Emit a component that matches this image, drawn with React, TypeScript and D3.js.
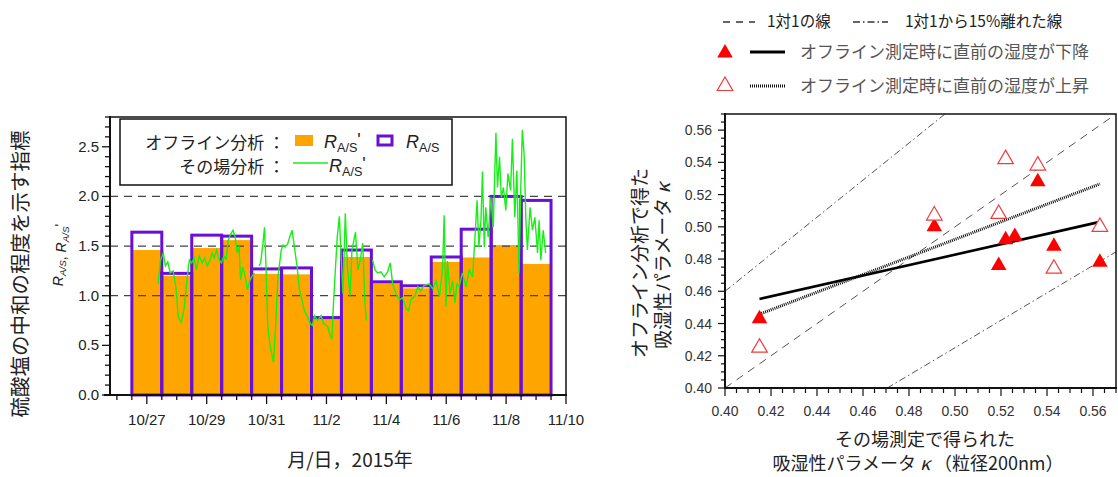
import React from "react";
import * as d3 from "d3";

// ---- left chart data (days counted from Oct 1; 32 = Nov 1) ----
const barDays = [27, 28, 29, 30, 31, 32, 33, 34, 35, 36, 37, 38, 39, 40];
const offlineRprime = [1.46, 1.2, 1.48, 1.56, 1.22, 1.215, 0.77, 1.39, 1.125, 1.075, 1.34, 1.385, 1.51, 1.32];
const offlineR = [1.64, 1.225, 1.61, 1.6, 1.27, 1.28, 0.78, 1.46, 1.14, 1.1, 1.39, 1.67, 2.0, 1.96];

const xTickDays = [27, 29, 31, 33, 35, 37, 39, 41];
const xTickLabels = ["10/27", "10/29", "10/31", "11/2", "11/4", "11/6", "11/8", "11/10"];
const yTicksLeft = [0, 0.5, 1.0, 1.5, 2.0, 2.5];
const refLevels = [1.0, 1.5, 2.0];

// in-situ R_A/S' (null = gap)
const greenDays = [
  27.38, 27.45, 27.55, 27.62, 27.7, 27.78, 27.88, 27.97, 28.05, 28.15, 28.2, 28.25, 28.35, 28.42, 28.5,
  28.58, 28.65, 28.75, 28.85, 28.93, 29.02, 29.1, 29.18, 29.25, 29.33, 29.42, 29.49, 29.57, 29.65, 29.72,
  29.8, 29.88, 29.95, 30.02, 30.08, 30.13, 30.2, 30.28, 30.36, 30.45, 30.52, 30.6, 30.68, 30.75, 30.8,
  30.88, 30.93, 30.98, 31.04, 31.12, 31.23, 31.3, 31.38, 31.49, 31.55, 31.62, 31.7, 31.78, 31.85, 31.92,
  32.02, 32.1, 32.18, 32.27, 32.35, 32.46, 32.53, 32.6, 32.7, 32.82, 32.9, 33.04, 33.12, 33.18, 33.24,
  33.36, 33.43, 33.48, 33.55, 33.63, 33.7, 33.79, 33.85, 33.97, 34.05, 34.13, 34.21, 34.28, 34.33, 34.45,
  34.54, 34.62, 34.71, 34.82, 34.93, 35.04, 35.13, 35.21, 35.32, 35.43, 35.54, 35.66, 35.74, 35.82, 35.96,
  36.05, 36.15, 36.25, 36.43, 36.55, 36.66, 36.77, 36.88, 36.93, 36.99, 37.04, 37.13, 37.21, 37.29, 37.36,
  37.43, 37.54, 37.66, 37.77, 37.88, 37.96, 38.03, 38.09, 38.16, 38.21, 38.27, 38.32, 38.4, 38.49, 38.57,
  38.66, 38.71, 38.78, 38.84, 38.91, 38.99, 39.06, 39.15, 39.21, 39.29, 39.36, 39.43, 39.49, 39.54, 39.6,
  39.66, 39.71, 39.8, 39.88, 39.96, 40.05, 40.1, 40.16, 40.24, 40.32,
];
const greenVals: (number | null)[] = [
  1.12, 1.35, 1.43, 1.3, 1.34, 1.23, 1.25, 1.09, 0.79, 0.73, 0.8, 0.88, 1.19, 1.36, 1.33,
  1.38, 1.26, 1.4, 1.33, 1.38, 1.3, 1.35, 1.43, 1.38, 1.46, 1.36, 1.33, 1.4, 1.37, 1.56,
  1.62, 1.66, 1.59, 1.43, 1.5, 1.16, 1.29, 1.2, 1.06, 1.16, 1.2, 1.23, null, 1.3, 1.33,
  1.53, 1.69, 1.29, 0.69, 0.49, 0.33, 0.69, 1.19, 1.46, 1.51, 1.49, 1.52, 1.6, 1.66, 1.51,
  1.29, 1.06, 0.96, 0.84, 0.8, 0.72, 0.7, 0.8, 0.75, 0.8, 0.72, 0.69, 0.6, 0.57, 0.96,
  1.59, 1.8, 1.46, 1.02, 1.83, 1.29, 1.0, 1.46, 1.64, 1.26, 1.36, 1.53, 0.96, 0.75, null,
  1.36, 1.26, 1.23, 1.24, 1.19, 1.24, 1.33, 1.12, 1.02, 0.96, 0.98, 0.87, 0.85, 0.96, 1.0,
  1.09, 1.05, 1.1, 1.12, 1.07, 1.15, 0.99, 1.28, 1.81, 0.89, 1.35, 1.02, 1.15, 0.93, 1.12,
  1.09, 1.23, 1.09, 1.26, 1.19, 1.59, 1.96, 1.49, 1.76, 2.25, 1.49, 1.89, 1.59, 1.99, 1.69,
  2.64, 2.09, 2.4, 1.99, 2.09, 1.86, 2.23, 2.06, 2.58, 1.79, 2.26, 1.23, 2.09, 2.67, 2.43,
  1.76, 1.46, 1.89, 1.66, 1.79, 1.43, 1.76, 1.36, 1.66, 1.43,
];

// ---- right chart data ----
const fallInSitu = [0.415, 0.491, 0.519, 0.522, 0.526, 0.536, 0.543, 0.563];
const fallOffline = [0.443, 0.5, 0.476, 0.492, 0.494, 0.528, 0.488, 0.478];
const riseInSitu = [0.415, 0.491, 0.519, 0.522, 0.536, 0.543, 0.563];
const riseOffline = [0.425, 0.507, 0.508, 0.542, 0.538, 0.474, 0.5];
const kappaTicks = [0.4, 0.42, 0.44, 0.46, 0.48, 0.5, 0.52, 0.54, 0.56];

const jp = "'Noto Sans CJK JP', 'Noto Sans', sans-serif";
const num = "'Liberation Sans', Arial, sans-serif";

function fit(xs: number[], ys: number[]) {
  const mx = d3.mean(xs)!;
  const my = d3.mean(ys)!;
  const sxy = d3.sum(xs, (x, i) => (x - mx) * (ys[i] - my));
  const sxx = d3.sum(xs, (x) => (x - mx) * (x - mx));
  const b = sxy / sxx;
  return (x: number) => my + b * (x - mx);
}

const RAS = ({ prime, italicSub }: { prime?: boolean; italicSub?: boolean }) => (
  <>
    <tspan fontStyle="italic">R</tspan>
    <tspan fontSize="0.7em" dy="0.3em" fontStyle={italicSub ? "italic" : "normal"}>A/S</tspan>
    <tspan dy="-0.3em">{prime ? "'" : ""}</tspan>
  </>
);

function LeftChart() {
  const x = d3.scaleLinear().domain([25.77, 41]).range([110, 566]);
  const y = d3.scaleLinear().domain([0, 2.8]).range([395, 117]);
  const halfDays = d3.range(26, 41.01, 0.5);
  const minorY = d3.range(0, 2.81, 0.1);
  const line = d3
    .line<number | null>()
    .defined((d) => d !== null)
    .x((_, i) => x(greenDays[i]))
    .y((d) => y(d as number));

  return (
    <g>
      {barDays.map((d, i) => (
        <rect key={"o" + i} x={x(d - 0.5)} y={y(offlineRprime[i])} width={x(d + 0.5) - x(d - 0.5)}
          height={y(0) - y(offlineRprime[i])} fill="#ffa500" />
      ))}
      {refLevels.map((v) => (
        <line key={v} x1={110} x2={566} y1={y(v)} y2={y(v)} stroke="#444" strokeWidth={1.3} strokeDasharray="8,6" />
      ))}
      {barDays.map((d, i) => (
        <rect key={"p" + i} x={x(d - 0.5)} y={y(offlineR[i])} width={x(d + 0.5) - x(d - 0.5)}
          height={y(0) - y(offlineR[i])} fill="none" stroke="#6a0fd6" strokeWidth={3} />
      ))}
      <path d={line(greenVals) || ""} fill="none" stroke="#18ee18" strokeWidth={1.4} />

      {/* frame and axes */}
      <rect x={110} y={117} width={456} height={278} fill="none" stroke="#111" strokeWidth={1.5} />
      <line x1={110} x2={110} y1={116} y2={396} stroke="#111" strokeWidth={2} />
      <line x1={104} x2={567} y1={395} y2={395} stroke="#111" strokeWidth={2} />
      {minorY.map((v, i) => (
        <line key={i} x1={i % 5 === 0 ? 102 : 105} x2={110} y1={y(v)} y2={y(v)} stroke="#111" strokeWidth={1.3} />
      ))}
      {yTicksLeft.map((v) => (
        <text key={v} x={99} y={y(v) + 5} textAnchor="end" fontFamily={num} fontSize={15} fill="#222">
          {v.toFixed(1)}
        </text>
      ))}
      {halfDays.map((d) => (
        <line key={d} x1={x(d)} x2={x(d)} y1={395} y2={395 + (d % 2 === 1 ? 9 : 5)} stroke="#111" strokeWidth={1.3} />
      ))}
      {xTickDays.map((d, i) => (
        <text key={d} x={x(d)} y={425} textAnchor="middle" fontFamily={num} fontSize={15} fill="#222">
          {xTickLabels[i]}
        </text>
      ))}
      <text x={350} y={467} textAnchor="middle" fontFamily={jp} fontSize={19} fill="#222">月/日，2015年</text>
      <text transform="translate(28,274) rotate(-90)" textAnchor="middle" fontFamily={jp} fontSize={20.5} fill="#222">
        硫酸塩の中和の程度を示す指標
      </text>
      <text transform="translate(63,255) rotate(-90)" textAnchor="middle" fontFamily={num} fontSize={14} fill="#222">
        <RAS italicSub />
        <tspan>, </tspan>
        <RAS prime italicSub />
      </text>

      {/* legend */}
      <rect x={120} y={119} width={332} height={66} fill="#fff" stroke="#111" strokeWidth={1.5} />
      <text x={285} y={149} textAnchor="end" fontFamily={jp} fontSize={17} fill="#222">オフライン分析 ：</text>
      <rect x={295} y={135} width={18} height={11} fill="#ffa500" />
      <text x={324} y={148} fontFamily={num} fontSize={18} fill="#222"><RAS prime /></text>
      <rect x={378} y={136} width={14} height={9} fill="none" stroke="#6a0fd6" strokeWidth={3} />
      <text x={406} y={148} fontFamily={num} fontSize={18} fill="#222"><RAS /></text>
      <text x={285} y={173} textAnchor="end" fontFamily={jp} fontSize={17} fill="#222">その場分析 ：</text>
      <line x1={293} x2={328} y1={163} y2={163} stroke="#18ee18" strokeWidth={1.5} />
      <text x={329} y={172} fontFamily={num} fontSize={18} fill="#222"><RAS prime /></text>
    </g>
  );
}

function RightChart() {
  const x = d3.scaleLinear().domain([0.4, 0.57]).range([725, 1116]);
  const y = d3.scaleLinear().domain([0.4, 0.57]).range([388, 114]);
  const minor = d3.range(0.4, 0.5701, 0.005);
  const tri = d3.symbol(d3.symbolTriangle, 105)() || "";
  const fFall = fit(fallInSitu, fallOffline);
  const fRise = fit(riseInSitu, riseOffline);
  const ref = (k: number) => {
    const x0 = 0.4, x1 = 0.57;
    return `M${x(x0)},${y(k * x0)}L${x(x1)},${y(k * x1)}`;
  };
  const [fx0, fx1] = d3.extent(fallInSitu) as [number, number];
  const [rx0, rx1] = d3.extent(riseInSitu) as [number, number];

  return (
    <g>
      <defs>
        <clipPath id="rclip">
          <rect x={725} y={114} width={391} height={274} />
        </clipPath>
      </defs>
      <g clipPath="url(#rclip)" fill="none" stroke="#555" strokeWidth={1}>
        <path d={ref(1)} strokeDasharray="8,6" />
        <path d={ref(1.15)} strokeDasharray="7,3,1.5,3" />
        <path d={ref(0.85)} strokeDasharray="7,3,1.5,3" />
      </g>
      <line x1={x(fx0)} x2={x(fx1)} y1={y(fFall(fx0))} y2={y(fFall(fx1))} stroke="#000" strokeWidth={2.6} />
      <line x1={x(rx0)} x2={x(rx1)} y1={y(fRise(rx0))} y2={y(fRise(rx1))} stroke="#111" strokeWidth={3} strokeDasharray="1,1" />
      {fallInSitu.map((v, i) => (
        <path key={"f" + i} d={tri} transform={`translate(${x(v)},${y(fallOffline[i])})`} fill="#ff0000" />
      ))}
      {riseInSitu.map((v, i) => (
        <path key={"r" + i} d={tri} transform={`translate(${x(v)},${y(riseOffline[i])})`} fill="#fff"
          stroke="#f03c3c" strokeWidth={1.2} />
      ))}

      <rect x={725} y={114} width={391} height={274} fill="none" stroke="#111" strokeWidth={1.5} />
      <line x1={725} x2={725} y1={113} y2={389} stroke="#111" strokeWidth={2} />
      <line x1={724} x2={1117} y1={388} y2={388} stroke="#111" strokeWidth={2} />
      {minor.map((v, i) => (
        <g key={i}>
          <line x1={i % 4 === 0 ? 718 : 721} x2={725} y1={y(v)} y2={y(v)} stroke="#111" strokeWidth={1.2} />
          <line x1={x(v)} x2={x(v)} y1={388} y2={388 + (i % 4 === 0 ? 8 : 5)} stroke="#111" strokeWidth={1.2} />
        </g>
      ))}
      {kappaTicks.map((v) => (
        <g key={v}>
          <text x={712} y={y(v) + 5} textAnchor="end" fontFamily={num} fontSize={14} fill="#333">{v.toFixed(2)}</text>
          <text x={x(v)} y={416} textAnchor="middle" fontFamily={num} fontSize={14} fill="#333">{v.toFixed(2)}</text>
        </g>
      ))}
      <text x={925} y={446} textAnchor="middle" fontFamily={jp} fontSize={18} fill="#222">その場測定で得られた</text>
      <text x={918} y={470} textAnchor="middle" fontFamily={jp} fontSize={18} fill="#222">
        吸湿性パラメータ <tspan fontStyle="italic">κ</tspan> （粒径200nm）
      </text>
      <text transform="translate(647,263) rotate(-90)" textAnchor="middle" fontFamily={jp} fontSize={19} fill="#222">
        オフライン分析で得た
      </text>
      <text transform="translate(670,266) rotate(-90)" textAnchor="middle" fontFamily={jp} fontSize={19} fill="#222">
        吸湿性パラメータ <tspan fontStyle="italic">κ</tspan>
      </text>

      {/* legend */}
      <line x1={723} x2={755} y1={22} y2={22} stroke="#333" strokeWidth={1.3} strokeDasharray="7,6" />
      <text x={767} y={27} fontFamily={jp} fontSize={15.5} fill="#222">1対1の線</text>
      <line x1={853} x2={888} y1={22} y2={22} stroke="#333" strokeWidth={1.3} strokeDasharray="7,3,1.5,3" />
      <text x={905} y={27} fontFamily={jp} fontSize={15.5} fill="#222">1対1から15%離れた線</text>
      <path d={tri} transform="translate(725,53)" fill="#ff0000" />
      <line x1={750} x2={785} y1={52} y2={52} stroke="#000" strokeWidth={3} />
      <text x={800} y={58} fontFamily={jp} fontSize={17} fill="#555">オフライン測定時に直前の湿度が下降</text>
      <path d={tri} transform="translate(725,86)" fill="#fff" stroke="#f03c3c" strokeWidth={1.2} />
      <line x1={750} x2={785} y1={86} y2={86} stroke="#111" strokeWidth={3} strokeDasharray="1,1" />
      <text x={800} y={92} fontFamily={jp} fontSize={17} fill="#555">オフライン測定時に直前の湿度が上昇</text>
    </g>
  );
}

export default function App() {
  return (
    <svg width={1118} height={477} style={{ position: "absolute", left: 0, top: 0, background: "#fff" }}>
      <LeftChart />
      <RightChart />
    </svg>
  );
}
